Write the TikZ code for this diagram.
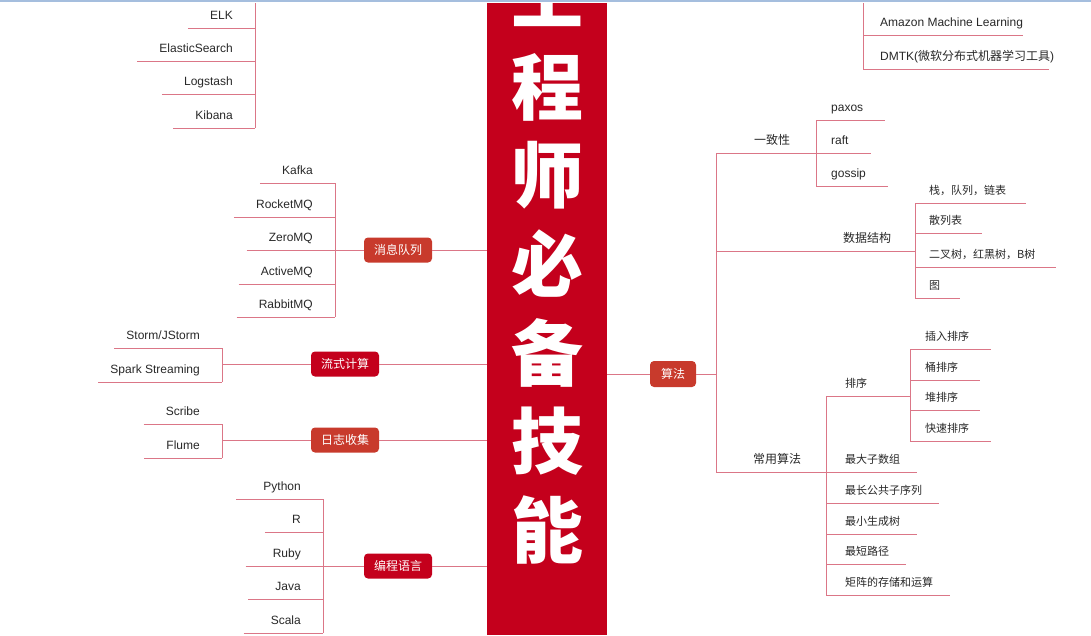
\documentclass[tikz,border=0pt]{standalone}
\usepackage{fontspec}
\setmainfont{Liberation Sans}
\newfontfamily\cjk{Noto Sans CJK SC}

\definecolor{barred}{RGB}{196,0,28}
\definecolor{topicorange}{RGB}{200,58,44}
\definecolor{branchline}{RGB}{219,118,135}
\definecolor{inkgray}{RGB}{40,40,40}
\definecolor{topline}{RGB}{165,190,222}

\tikzset{
  branch/.style={draw=branchline, line width=0.9pt},
  leaf/.style={inner sep=0pt, text height=9pt, text depth=8pt, text=inkgray, font=\fontsize{12}{14}\selectfont},
  cjkleaf/.style={leaf, font=\cjk\fontsize{11}{13}\selectfont},
  subtopic/.style={leaf, anchor=south, font=\cjk\fontsize{12}{14}\selectfont},
  topic/.style={rounded corners=4pt, text=white, inner sep=0pt, minimum width=68pt, minimum height=25pt, font=\cjk\fontsize{12}{14}\selectfont},
  titlechar/.style={inner sep=0pt, text=white, font=\cjk\bfseries\fontsize{72}{72}\selectfont},
}

\begin{document}
\begin{tikzpicture}[x=1pt, y=-1pt]
	\useasboundingbox (0,0) rectangle (1091,635);
	\draw [topline, line width=1.5pt] (0,1) -- (1091,1);

	\node [fill=barred, inner sep=0pt, minimum width=120pt, minimum height=632pt, anchor=north west] (bar) at (487,3) {};
	\begin{scope}
		\clip (bar.south west) rectangle (bar.north east);
		\foreach \ch [count=\i] in {工,程,师,必,备,技,能}
			\node [titlechar] (title\i) at (547,{-90+88.5*\i}) {\ch};
	\end{scope}

	% left: ELK
	\coordinate (elkv) at (255,3);
	\foreach \nm/\txt/\y in {elk/ELK/28, es/ElasticSearch/61, ls/Logstash/94, kb/Kibana/128} {
		\node [leaf, anchor=south east] (\nm) at (233,\y) {\txt};
		\draw [branch] ([xshift=-22pt]\nm.south west) -- (\nm.south -| elkv);
	}
	\draw [branch] (elkv) -- (kb.south -| elkv);

	% left: message queues
	\node [topic, fill=topicorange] (mq) at (398,250) {消息队列};
	\coordinate (mqv) at (335,250);
	\foreach \nm/\txt/\y in {kafka/Kafka/183, rocket/RocketMQ/217, zero/ZeroMQ/250, active/ActiveMQ/284, rabbit/RabbitMQ/317} {
		\node [leaf, anchor=south east] (\nm) at (313,\y) {\txt};
		\draw [branch] ([xshift=-22pt]\nm.south west) -- (\nm.south -| mqv);
	}
	\draw [branch] (kafka.south -| mqv) -- (rabbit.south -| mqv);
	\draw [branch] (mq.west) -- (mqv);
	\draw [branch] (mq.east) -- (mq.east -| bar.west);

	% left: streaming
	\node [topic, fill=barred] (stream) at (345,364) {流式计算};
	\coordinate (streamv) at (222,364);
	\foreach \nm/\txt/\y in {storm/{Storm/JStorm}/348, spark/Spark Streaming/382} {
		\node [leaf, anchor=south east] (\nm) at (200,\y) {\txt};
		\draw [branch] ([xshift=-12pt]\nm.south west) -- (\nm.south -| streamv);
	}
	\draw [branch] (storm.south -| streamv) -- (spark.south -| streamv);
	\draw [branch] (stream.west) -- (streamv);
	\draw [branch] (stream.east) -- (stream.east -| bar.west);

	% left: log collection
	\node [topic, fill=topicorange] (logs) at (345,440) {日志收集};
	\coordinate (logsv) at (222,440);
	\foreach \nm/\txt/\y in {scribe/Scribe/424, flume/Flume/458} {
		\node [leaf, anchor=south east] (\nm) at (200,\y) {\txt};
		\draw [branch] ([xshift=-22pt]\nm.south west) -- (\nm.south -| logsv);
	}
	\draw [branch] (scribe.south -| logsv) -- (flume.south -| logsv);
	\draw [branch] (logs.west) -- (logsv);
	\draw [branch] (logs.east) -- (logs.east -| bar.west);

	% left: languages
	\node [topic, fill=barred] (lang) at (398,566) {编程语言};
	\coordinate (langv) at (323,566);
	\foreach \nm/\txt/\y in {python/Python/499, rlang/R/532, ruby/Ruby/566, java/Java/599, scala/Scala/633} {
		\node [leaf, anchor=south east] (\nm) at (301,\y) {\txt};
		\draw [branch] ([xshift=-27pt]\nm.south west) -- (\nm.south -| langv);
	}
	\draw [branch] (python.south -| langv) -- (scala.south -| langv);
	\draw [branch] (lang.west) -- (langv);
	\draw [branch] (lang.east) -- (lang.east -| bar.west);

	% right: machine learning tools
	\coordinate (mlv) at (863,3);
	\node [leaf, anchor=south west] (aml) at (880,35) {Amazon Machine Learning};
	\node [leaf, anchor=south west] (dmtk) at (880,69) {DMTK({\cjk\fontsize{12}{14}\selectfont 微软分布式机器学习工具})};
	\draw [branch] (aml.south -| mlv) -- (aml.south east);
	\draw [branch] (dmtk.south -| mlv) -- ([xshift=-5pt]dmtk.south east);
	\draw [branch] (mlv) -- (dmtk.south -| mlv);

	% right: algorithms
	\node [topic, fill=topicorange, minimum width=46pt, minimum height=26pt] (algo) at (673,374) {算法};
	\coordinate (algov) at (716,374);
	\draw [branch] (bar.east |- algo) -- (algo.west);
	\draw [branch] (algo.east) -- (algov);

	\node [subtopic] (cons) at (772,153) {一致性};
	\coordinate (consv) at (816,153);
	\draw [branch] (cons.south -| algov) -- (consv);
	\foreach \nm/\txt/\y in {paxos/paxos/120, raft/raft/153, gossip/gossip/186} {
		\node [leaf, anchor=south west] (\nm) at (831,\y) {\txt};
		\draw [branch] (\nm.south -| consv) -- ([xshift=22pt]\nm.south east);
	}
	\draw [branch] (paxos.south -| consv) -- (gossip.south -| consv);

	\node [subtopic] (ds) at (867,251) {数据结构};
	\coordinate (dsv) at (915,251);
	\draw [branch] (ds.south -| algov) -- (dsv);
	\foreach \nm/\txt/\y in {stack/栈，队列，链表/203, hash/散列表/233, tree/二叉树，红黑树，B树/267, graph/图/298} {
		\node [cjkleaf, anchor=south west] (\nm) at (929,\y) {\txt};
		\draw [branch] (\nm.south -| dsv) -- ([xshift=20pt]\nm.south east);
	}
	\draw [branch] (stack.south -| dsv) -- (graph.south -| dsv);

	\node [subtopic] (common) at (777,472) {常用算法};
	\coordinate (commonv) at (826,472);
	\draw [branch] (common.south -| algov) -- (commonv);
	\draw [branch] (cons.south -| algov) -- (common.south -| algov);

	\node [subtopic, font=\cjk\fontsize{11}{13}\selectfont] (sort) at (856,396) {排序};
	\coordinate (sortv) at (910,396);
	\draw [branch] (sort.south -| commonv) -- (sortv);
	\foreach \nm/\txt/\y in {insert/插入排序/349, bucket/桶排序/380, heap/堆排序/410, quick/快速排序/441} {
		\node [cjkleaf, anchor=south west] (\nm) at (925,\y) {\txt};
		\draw [branch] (\nm.south -| sortv) -- ([xshift=22pt]\nm.south east);
	}
	\draw [branch] (insert.south -| sortv) -- (quick.south -| sortv);

	\foreach \nm/\txt/\y in {maxsub/最大子数组/472, lcs/最长公共子序列/503, mst/最小生成树/534, short/最短路径/564, mat/矩阵的存储和运算/595} {
		\node [cjkleaf, anchor=south west] (\nm) at (845,\y) {\txt};
		\draw [branch] (\nm.south -| commonv) -- ([xshift=17pt]\nm.south east);
	}
	\draw [branch] (sort.south -| commonv) -- (mat.south -| commonv);
\end{tikzpicture}
\end{document}
